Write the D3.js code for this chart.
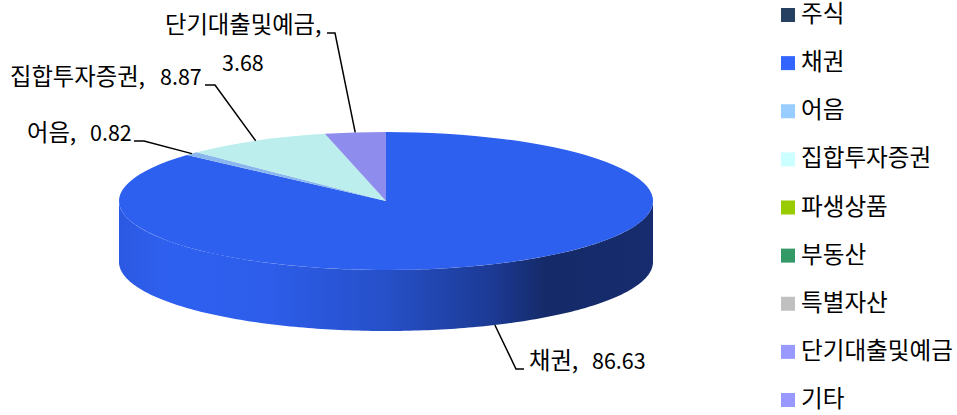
<!DOCTYPE html>
<html>
<head>
<meta charset="utf-8">
<script src="https://cdn.jsdelivr.net/npm/d3@7"></script>
<style>
body { margin: 0; background: #fff; }
text { font-family: "Noto Sans CJK KR", sans-serif; fill: #000; }
</style>
</head>
<body>
<svg></svg>
<script>
// Chart values
let categories = ['주식', '채권', '어음', '집합투자증권', '파생상품', '부동산', '특별자산', '단기대출및예금', '기타']
let values = [0, 86.63, 0.82, 8.87, 0, 0, 0, 3.68, 0]
let legendColors = ['#254061', '#3366ff', '#99ccff', '#ccffff', '#99cc00', '#339966', '#c0c0c0', '#9999ff', '#9999ff']
let topColors = ['#254061', '#2e60f0', '#8ab8ee', '#bbeeec', '#99cc00', '#339966', '#c0c0c0', '#8e8cec', '#8e8cec']

// Label placement, by category name: text start, baseline, elbow of the leader line
let labelLayout = {
    '채권': {x: 529, y: 369, valueX: 592, elbow: [[516, 369], [524, 369]]},
    '어음': {x: 27, y: 141, valueX: 90, elbow: [[144, 141], [134, 141]]},
    '집합투자증권': {x: 10, y: 85, valueX: 160, elbow: [[215, 85], [205, 85]]},
    '단기대출및예금': {x: 165, y: 33, valueX: 222, valueY: 71, elbow: [[335, 33], [327, 33]]}
}

let width = 957
let height = 415

let cx = 386
let cy = 201
let rx = 267
let ry = 69
let depth = 61

let svg = d3.select('svg')
            .attr('width', width)
            .attr('height', height)

// Pie runs clockwise from 12 o'clock, squashed into an ellipse
let pie = d3.pie().sort(null).value(d => d)
let slices = pie(values)
let arc = d3.arc().innerRadius(0).outerRadius(1)

let ellipseX = a => cx + rx * Math.sin(a)
let ellipseY = a => cy - ry * Math.cos(a)

// Gradient for the side wall
let defs = svg.append('defs')
let wallGrad = defs.append('linearGradient')
    .attr('id', 'wall')
    .attr('gradientUnits', 'userSpaceOnUse')
    .attr('x1', cx - rx).attr('x2', cx + rx)
    .attr('y1', 0).attr('y2', 0)

let wallStops = [[0, '#2c59e2'], [0.1, '#2e60f0'], [0.28, '#2d5dea'], [0.5, '#2650c8'], [0.7, '#1c3a94'], [0.8, '#152a68'], [1, '#172c6e']]
wallGrad.selectAll('stop')
    .data(wallStops)
    .enter()
    .append('stop')
    .attr('offset', d => d[0])
    .attr('stop-color', d => d[1])

// Side wall, the front half of the ellipse
function drawWall() {
    let angles = d3.range(Math.PI / 2, Math.PI * 1.5 + 0.001, Math.PI / 180)
    let wall = d3.area()
        .x(a => ellipseX(a))
        .y0(a => ellipseY(a))
        .y1(a => ellipseY(a) + depth)
    svg.append('path')
        .attr('d', wall(angles))
        .attr('fill', 'url(#wall)')
}

// Top face of the pie
function drawTop() {
    svg.append('g')
        .attr('transform', 'translate(' + cx + ',' + cy + ') scale(' + rx + ',' + ry + ')')
        .selectAll('path')
        .data(slices.filter(d => d.value > 0))
        .enter()
        .append('path')
        .attr('d', arc)
        .attr('fill', d => topColors[d.index])
}

// Leader lines and data labels
function drawLabels() {
    let line = d3.line()
    slices.filter(d => d.value > 0).forEach(d => {
        let name = categories[d.index]
        let layout = labelLayout[name]
        let mid = (d.startAngle + d.endAngle) / 2
        // Slices on the front half are reached on the bottom edge of the wall
        let isFront = Math.cos(mid) < 0
        let anchor = [ellipseX(mid), ellipseY(mid) + (isFront ? depth : 0)]

        svg.append('path')
            .attr('d', line([anchor, layout.elbow[0], layout.elbow[1]]))
            .attr('fill', 'none')
            .attr('stroke', '#000')
            .attr('stroke-width', 1.5)

        svg.append('text')
            .attr('x', layout.x)
            .attr('y', layout.y)
            .attr('font-size', 23.3)
            .text(name + ',')

        svg.append('text')
            .attr('x', layout.valueX)
            .attr('y', layout.valueY || layout.y)
            .attr('font-size', 21.5)
            .text(values[d.index].toFixed(2))
    })
}

// Legend on the right
function drawLegend() {
    let legendY = d3.scalePoint()
        .domain(categories)
        .range([15, 400])

    let items = svg.append('g')
        .selectAll('g')
        .data(categories)
        .enter()
        .append('g')
        .attr('transform', d => 'translate(781,' + legendY(d) + ')')

    items.append('rect')
        .attr('x', 0)
        .attr('y', -7)
        .attr('width', 14)
        .attr('height', 14)
        .attr('fill', (d, i) => legendColors[i])

    items.append('text')
        .attr('x', 20)
        .attr('y', 7)
        .attr('font-size', 23.6)
        .text(d => d)
}

drawWall()
drawTop()
drawLabels()
drawLegend()
</script>
</body>
</html>
